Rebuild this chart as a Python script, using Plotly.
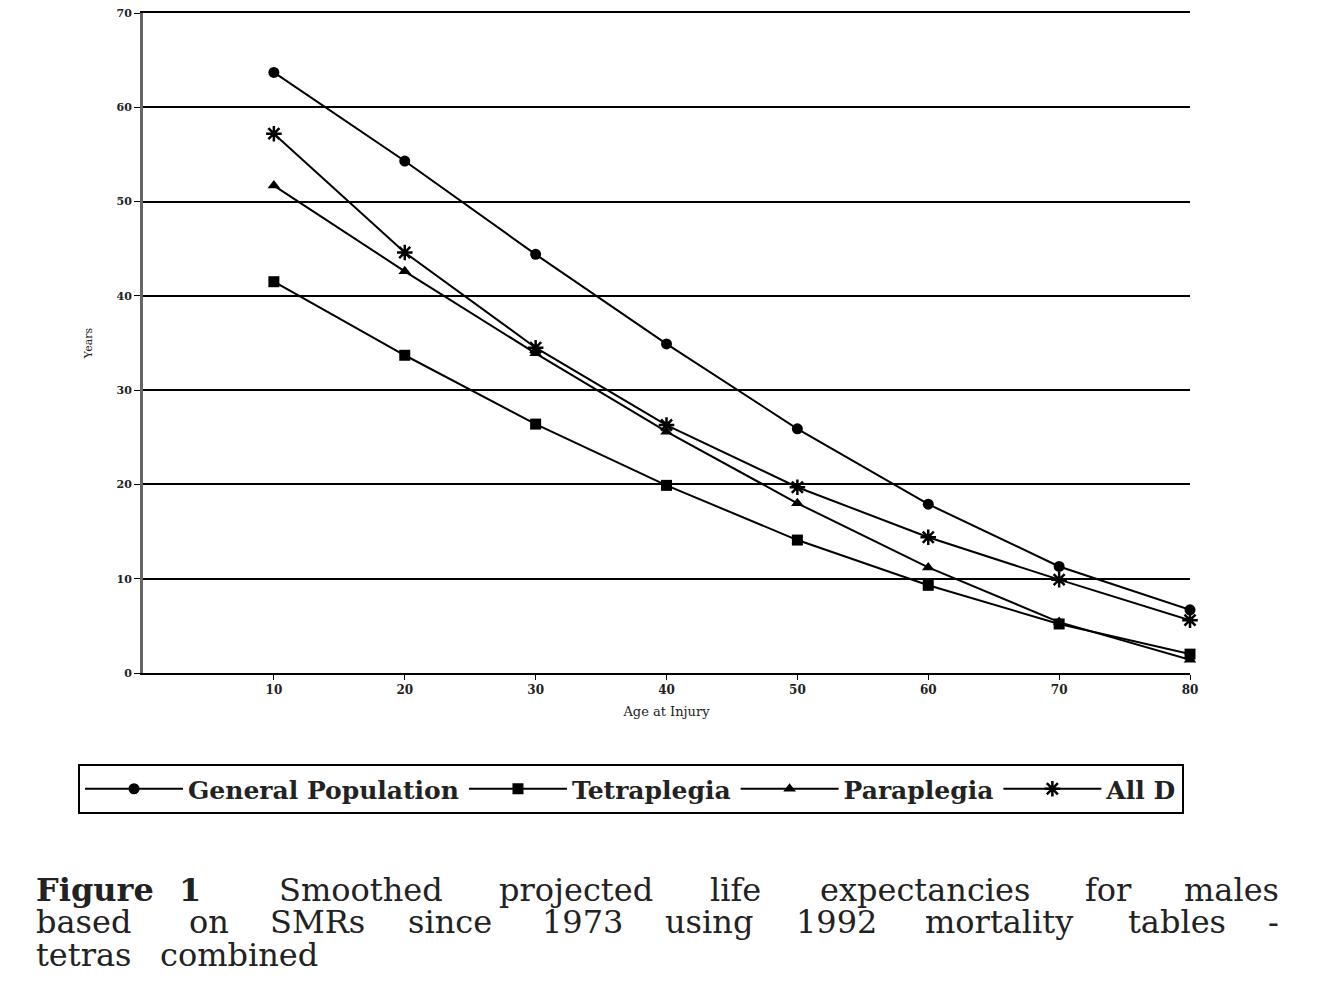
import plotly.graph_objects as go

ages = [10, 20, 30, 40, 50, 60, 70, 80]
general_population = [63.7, 54.3, 44.4, 34.9, 25.9, 17.9, 11.3, 6.7]
tetraplegia = [41.5, 33.7, 26.4, 19.9, 14.1, 9.3, 5.2, 2.0]
paraplegia = [51.7, 42.6, 33.9, 25.6, 18.0, 11.2, 5.4, 1.4]
all_d = [57.2, 44.6, 34.5, 26.3, 19.7, 14.4, 9.9, 5.6]

y_ticks = [0, 10, 20, 30, 40, 50, 60, 70]
x_ticks = [10, 20, 30, 40, 50, 60, 70, 80]

series = [
    ("General Population", general_population, "circle"),
    ("Tetraplegia", tetraplegia, "square"),
    ("Paraplegia", paraplegia, "triangle-up"),
    ("All D", all_d, "asterisk-open"),
]

# page has an 8px body margin; keep the figure inside the window
OFF = 8
W, H = 1320 - 2 * OFF, 997 - 2 * OFF
L, R, T, B = 143 - OFF, 1190 - OFF, 13 - OFF, 673 - OFF

fig = go.Figure()
for name, vals, sym in series:
    is_open = sym.endswith("open")
    fig.add_trace(go.Scatter(
        x=ages, y=vals, name=name, mode="lines+markers",
        line=dict(color="black", width=2),
        marker=dict(symbol=sym, size=13 if is_open else 11, color="black",
                    line=dict(color="black", width=2.5 if is_open else 0)),
        cliponaxis=False,
    ))

def px_x(px):
    return (px - OFF - L) / (R - L)

def px_y(py):
    return (B - (py - OFF)) / (B - T)

fig.update_layout(
    width=W, height=H,
    margin=dict(l=L, r=W - R, t=T, b=H - B, pad=0, autoexpand=False),
    paper_bgcolor="white", plot_bgcolor="white",
    showlegend=True,
    legend=dict(
        orientation="h", x=px_x(78), y=px_y(764), xanchor="left", yanchor="top",
        bordercolor="black", borderwidth=2, bgcolor="white",
        font=dict(family="DejaVu Serif", size=25, color="#222", weight="bold"),
        itemwidth=98, tracegroupgap=0,
    ),
    xaxis=dict(
        range=[0, 80], tickvals=x_ticks, ticktext=[str(v) for v in x_ticks],
        showgrid=False, zeroline=False, showline=True, linecolor="black", linewidth=2,
        mirror=True, automargin=False, ticklabeloverflow="allow",
        ticks="outside", ticklen=5, tickcolor="black",
        tickfont=dict(family="DejaVu Serif", size=12, color="#222", weight="bold"),
        title=dict(text="Age at Injury", font=dict(family="DejaVu Serif", size=13, color="#222"), standoff=10),
    ),
    yaxis=dict(
        range=[0, 70], tickvals=y_ticks, ticktext=[str(v) for v in y_ticks],
        showgrid=True, gridcolor="black", gridwidth=1.5, zeroline=False,
        showline=True, linecolor="#666", linewidth=3, mirror=False,
        automargin=False, ticklabeloverflow="allow",
        ticks="outside", ticklen=6, tickcolor="black",
        tickfont=dict(family="DejaVu Serif", size=11, color="#222", weight="bold"),
        title=dict(text="Years", font=dict(family="DejaVu Serif", size=11, color="#222"), standoff=22),
    ),
)

# caption, word by word to mimic justified text (x = word centre in reference pixels)
caption_lines = [
    (890, [("Figure", 35, True), ("1", 190, True), ("Smoothed", 361, False), ("projected", 576, False),
           ("life", 735, False), ("expectancies", 925, False), ("for", 1108, False), ("males", 1280, False)]),
    (922, [("based", 35, False), ("on", 209, False), ("SMRs", 317, False), ("since", 450, False),
           ("1973", 582, False), ("using", 709, False), ("1992", 836, False), ("mortality", 999, False),
           ("tables", 1177, False), ("-", 1280, False)]),
    (955, [("tetras", 35, False), ("combined", 159, False)]),
]
for yy, words in caption_lines:
    n = len(words)
    for i, (w, xx, bold) in enumerate(words):
        if i == 0 or n == 2:
            anchor = "left"
        elif i == n - 1:
            anchor = "right"
        else:
            anchor = "center"
        fig.add_annotation(
            text=w, xref="paper", yref="paper", x=px_x(xx), y=px_y(yy),
            xanchor=anchor, yanchor="middle", showarrow=False, borderpad=0,
            font=dict(family="DejaVu Serif", size=32, color="#222",
                      weight="bold" if bold else "normal"),
        )

fig.write_html("out.html")
